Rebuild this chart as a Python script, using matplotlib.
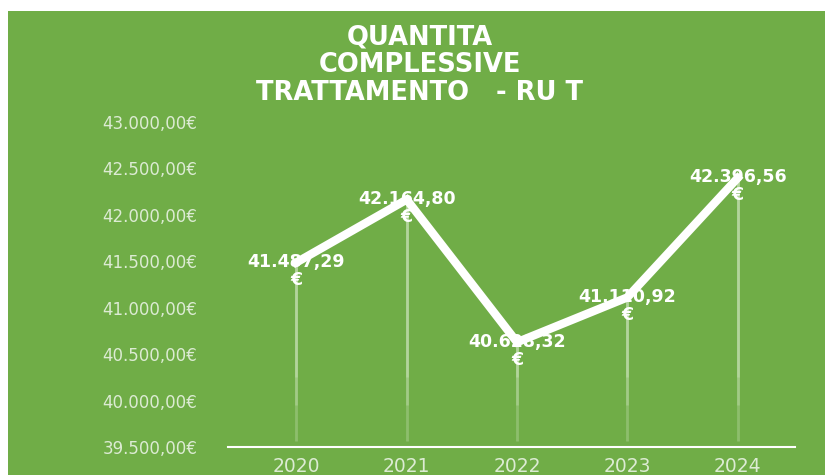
#!/usr/bin/env python3

import matplotlib
matplotlib.use("Agg")
import matplotlib.pyplot as plt

# Data
anni = ["2020", "2021", "2022", "2023", "2024"]
valori = [41487.29, 42164.80, 40628.32, 41110.92, 42396.56]
tick_valori = [39500, 40000, 40500, 41000, 41500, 42000, 42500, 43000]
titolo = "QUANTITA\nCOMPLESSIVE\nTRATTAMENTO   - RU T"

VERDE = "#70ad47"
TESTO_ASSE = "#dcebd3"


def euro(v, dec=2):
    # Italian number format: 41.487,29
    s = f"{v:,.{dec}f}"
    return s.replace(",", "X").replace(".", ",").replace("X", ".")


fig = plt.figure(figsize=(8.25, 4.75), dpi=100)
fig.patch.set_facecolor("white")

# green panel with a thin white margin at the top and left
panel = plt.Rectangle((8 / 825, 0), 1, 1 - 11 / 475, transform=fig.transFigure,
                      facecolor=VERDE, edgecolor="none", zorder=-5)
fig.add_artist(panel)

ax = fig.add_axes([228 / 825, 1 - 447 / 475, (795 - 228) / 825, (447 - 122) / 475])
ax.set_facecolor("none")
ax.set_zorder(2)

x = list(range(len(anni)))

# drop lines from each point to the axis, fainter towards the bottom
fondo = tick_valori[0] + 60
ax.vlines(x, fondo, valori, color="#d3e8c4", lw=2, alpha=0.3, zorder=2)
ax.vlines(x, 39950, valori, color="#d3e8c4", lw=2, alpha=0.3, zorder=2)
ax.vlines(x, 40250, valori, color="#d3e8c4", lw=2, alpha=0.35, zorder=2)

ax.plot(x, valori, color="white", lw=6, solid_joinstyle="miter", zorder=3)

for xi, v in zip(x, valori):
    ax.annotate(euro(v) + "\n€", (xi, v), xytext=(0, 7), textcoords="offset points",
                ha="center", va="top", color="white", fontsize=12.5, fontweight="bold",
                linespacing=1.0, zorder=4)

ax.set_xlim(-0.62, 4.52)
ax.set_ylim(tick_valori[0], tick_valori[-1])
ax.set_yticks(tick_valori)
ax.set_yticklabels([euro(t) + "€" for t in tick_valori])
ax.set_xticks(x)
ax.set_xticklabels(anni)

for s in ["top", "right", "left"]:
    ax.spines[s].set_visible(False)
ax.spines["bottom"].set_color("white")
ax.spines["bottom"].set_linewidth(1.5)

ax.tick_params(axis="y", length=0, pad=22, labelcolor=TESTO_ASSE, labelsize=12)
ax.tick_params(axis="x", length=0, pad=7, labelcolor=TESTO_ASSE, labelsize=13.5)

fig.text(420 / 825, 1 - 65 / 475, titolo, ha="center", va="center", color="white",
         fontsize=18.5, fontweight="bold", linespacing=1.1)

fig.savefig("out.png", dpi=100)
